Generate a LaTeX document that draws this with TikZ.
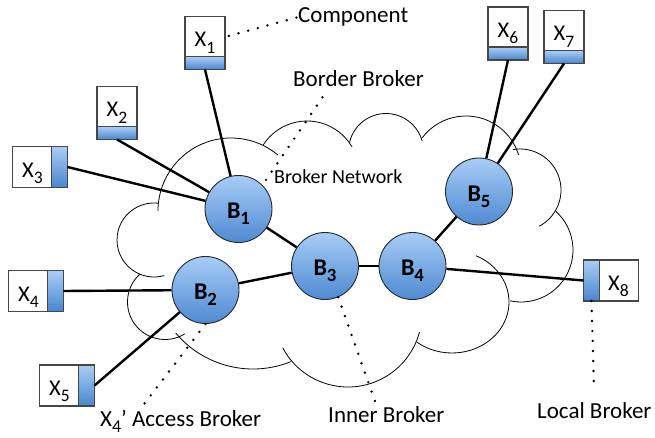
\documentclass[tikz,border=0pt]{standalone}
\usepackage{fontspec}
\usepackage{graphicx}
\setmainfont{Carlito}
\usetikzlibrary{positioning}

\definecolor{brtop}{RGB}{168,204,246}
\definecolor{brbot}{RGB}{78,138,210}
\definecolor{striptop}{RGB}{170,205,245}
\definecolor{stripbot}{RGB}{72,134,205}
\definecolor{boxline}{RGB}{70,70,70}
\definecolor{brline}{RGB}{40,40,40}

\newcommand{\sbs}[1]{\raisebox{-0.27em}{\scalebox{0.78}{#1}}}
\newcommand{\xfont}{\fontsize{22.5}{26}\selectfont}
\newcommand{\bfont}{\fontsize{24}{28}\selectfont\bfseries}
\newcommand{\lfont}{\fontsize{23}{27}\selectfont}
\newcommand{\nfont}{\fontsize{20}{24}\selectfont}

\tikzset{
    compbox/.style={draw=boxline, fill=white, line width=1.1pt, minimum width=40pt, minimum height=41pt,
        inner sep=0pt, outer sep=0pt, text height=20pt, text depth=0pt, font=\xfont},
    hstrip/.style={draw=boxline, line width=1.1pt, top color=striptop, bottom color=stripbot,
        minimum width=40pt, minimum height=13pt, inner sep=0pt, outer sep=0pt},
    vstrip/.style={draw=boxline, line width=1.1pt, top color=striptop, bottom color=stripbot,
        minimum width=16pt, minimum height=41pt, inner sep=0pt, outer sep=0pt},
    broker/.style={circle, draw=brline, line width=0.9pt, top color=brtop, bottom color=brbot,
        minimum size=67pt, inner sep=0pt, text height=19pt, text depth=0pt, font=\bfont},
    link/.style={black, line width=2.4pt},
    dots/.style={black, line width=2.7pt, line cap=round, dash pattern=on 0pt off 10pt},
    note/.style={inner sep=1pt, font=\lfont},
    cloudline/.style={black, line width=0.8pt}
}

\begin{document}
\begin{tikzpicture}[x=1pt, y=1pt]
    \useasboundingbox (0,0) rectangle (655,437);

    % broker network cloud
    \draw[cloudline] (231,226) ++(180:73) arc[start angle=180, end angle=50, radius=73];
    \draw[cloudline] (307,264) ++(147:52) arc[start angle=147, end angle=30, radius=52];
    \draw[cloudline] (386,286) ++(166:37.5) arc[start angle=166, end angle=15, radius=37.5];
    \draw[cloudline] (466,266) ++(143:55) arc[start angle=143, end angle=17, radius=55];
    \draw[cloudline] (520,247) ++(100:41) arc[start angle=100, end angle=-62, radius=41];
    \draw[cloudline] (521,187) ++(48:52) arc[start angle=48, end angle=-102, radius=52];
    \draw[cloudline] (452,135) ++({57*cos(65)},{51*sin(65)}) arc[start angle=65, end angle=-128, x radius=57, y radius=51];
    \draw[cloudline] (348,124) ++(208:74) arc[start angle=208, end angle=345, radius=74];
    \draw[cloudline] (253,169) ++(-68:101) arc[start angle=-68, end angle=-140, radius=101];
    \draw[cloudline] (165,135) ++(-58:37.5) arc[start angle=-58, end angle=-228, radius=37.5];
    \draw[cloudline] (154,197) ++(83:37) arc[start angle=83, end angle=286, radius=37];

    % brokers
    \node[broker] (b1) at (238.5,228) {B\sbs{1}};
    \node[broker] (b2) at (205.5,147) {B\sbs{2}};
    \node[broker] (b3) at (325,171) {B\sbs{3}};
    \node[broker] (b4) at (412.5,171) {B\sbs{4}};
    \node[broker] (b5) at (479,245.5) {B\sbs{5}};

    % components
    \node[compbox] (x1) at (205,400) {X\sbs{1}};
    \node[hstrip, below=-1pt of x1] (x1s) {};
    \node[compbox] (x2) at (117,330) {X\sbs{2}};
    \node[hstrip, below=-1pt of x2] (x2s) {};
    \node[compbox] (x3) at (32.5,270) {X\sbs{3}};
    \node[vstrip, right=-1pt of x3] (x3s) {};
    \node[compbox] (x4) at (28.5,146) {X\sbs{4}};
    \node[vstrip, right=-1pt of x4] (x4s) {};
    \node[compbox] (x5) at (59.5,51.5) {X\sbs{5}};
    \node[vstrip, right=-1pt of x5] (x5s) {};
    \node[compbox] (x6) at (508,409.5) {X\sbs{6}};
    \node[hstrip, below=-1pt of x6] (x6s) {};
    \node[compbox] (x7) at (564,406) {X\sbs{7}};
    \node[hstrip, below=-1pt of x7] (x7s) {};
    \node[compbox] (x8) at (618.5,156.5) {X\sbs{8}};
    \node[vstrip, left=-1pt of x8] (x8s) {};

    % labels
    \node[note, anchor=base west] (comp) at (297,414) {Component};
    \node[note, anchor=base west] (bord) at (292,350) {Border Broker};
    \node[note, anchor=base west, font=\nfont] (bnet) at (273,254) {Broker Network};
    \node[note, anchor=base west] (acc) at (99,11) {X\sbs{4}’ Access Broker};
    \node[note, anchor=base west] (inner) at (327,15) {Inner Broker};
    \node[note, anchor=base west] (loc) at (536,19) {Local Broker};

    % links
    \draw[link] (x1s.south) -- (b1);
    \draw[link] (x2s.south) -- (b1);
    \draw[link] (x3s.east) -- (b1);
    \draw[link] (x4s.east) -- (b2);
    \draw[link] (x5s.east) -- (b2);
    \draw[link] (b1) -- (b3);
    \draw[link] (b2) -- (b3);
    \draw[link] (b3) -- (b4);
    \draw[link] (b4) -- (b5);
    \draw[link] (x6s.south) -- (b5);
    \draw[link] (x7s.south) -- (b5);
    \draw[link] (b4) -- (x8s.west);

    % dotted pointers
    \draw[dots, shorten <=4pt] (x1.east) -- (comp.west);
    \draw[dots] ([xshift=-36pt,yshift=-9pt]bord.south) -- (b1.north east);
    \draw[dots] (b2.south) -- ([xshift=-40pt]acc.north);
    \draw[dots] (b3.-67) -- ([xshift=-10pt]inner.north);
    \draw[dots, shorten >=12pt] (x8s.south) -- (loc.north);
\end{tikzpicture}
\end{document}
